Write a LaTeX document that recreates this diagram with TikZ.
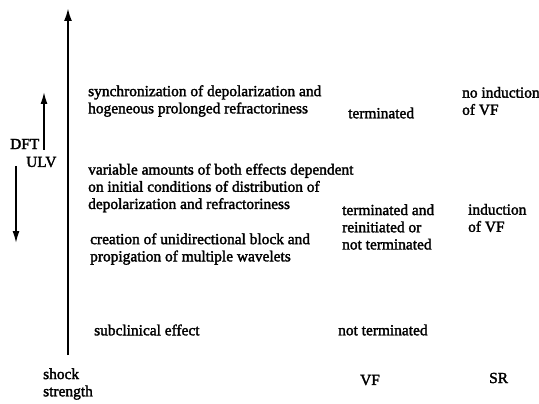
\documentclass[tikz,border=0pt]{standalone}
\usepackage{fontspec}
\newfontfamily\heavyserif[FakeBold=2]{Liberation Serif}
\usetikzlibrary{arrows.meta}
\begin{document}
\begin{tikzpicture}[x=1pt,y=-1pt,
  lbl/.style={anchor=west,align=left,inner sep=0pt,font=\heavyserif\fontsize{15.4}{17.2}\selectfont},
  axis/.style={line width=2.2pt,-{Latex[length=13pt,width=8pt]}},
  thin/.style={line width=1.6pt,-{Latex[length=12pt,width=7pt]}}]
\useasboundingbox (0,0) rectangle (539,404);
% axis
\coordinate (a0) at (68,355);
\coordinate (a1) at (68,8);
\draw[axis] (a0) -- (a1);
% DFT / ULV arrows
\coordinate (u0) at (44,150);
\coordinate (u1) at (44,92);
\draw[thin] (u0) -- (u1);
\coordinate (d0) at (16,166);
\coordinate (d1) at (16,243);
\draw[thin] (d0) -- (d1);
\node[lbl] (dft) at (10,144) {DFT};
\node[lbl] (ulv) at (26,162) {ULV};
% mechanisms
\node[lbl] (m1) at (88,101) {synchronization of depolarization and\\hogeneous prolonged refractoriness};
\node[lbl] (m2) at (88,188) {variable amounts of both effects dependent\\on initial conditions of distribution of\\depolarization and refractoriness};
\node[lbl] (m3) at (90,249) {creation of unidirectional block and\\propigation of multiple wavelets};
\node[lbl] (m4) at (94,330) {subclinical effect};
% VF column
\node[lbl] (v1) at (348,113) {terminated};
\node[lbl] (v2) at (342,227) {terminated and\\reinitiated or\\not terminated};
\node[lbl] (v3) at (338,330) {not terminated};
% SR column
\node[lbl] (s1) at (462,101) {no induction\\of VF};
\node[lbl] (s2) at (468,218) {induction\\of VF};
% bottom
\node[lbl] (ss) at (43,384) {shock\\strength};
\node[lbl] (vf) at (360,380) {VF};
\node[lbl] (sr) at (489,378) {SR};
\end{tikzpicture}
\end{document}
